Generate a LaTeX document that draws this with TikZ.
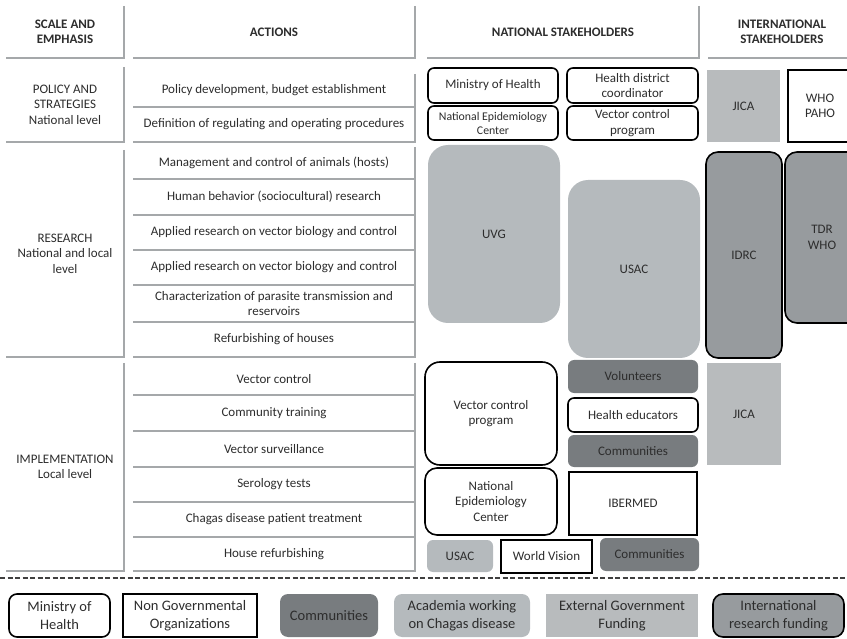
\documentclass[tikz,border=0pt]{standalone}
\usepackage{fontspec}
\setmainfont{Carlito}
\definecolor{txtgray}{RGB}{45,45,45}
\definecolor{rulegray}{RGB}{165,168,170}
\definecolor{commgray}{RGB}{120,124,127}
\definecolor{acadgray}{RGB}{181,186,189}
\definecolor{extgray}{RGB}{184,187,189}
\definecolor{intgray}{RGB}{151,155,158}
\begin{document}
\begin{tikzpicture}[x=1pt,y=-1pt,
    every node/.style={text=txtgray, align=center, inner sep=2pt,
        font=\fontsize{13}{15.5}\selectfont},
    hdr/.style={fill=white, minimum height=52pt,
        font=\fontsize{13}{15}\selectfont\bfseries},
    scl/.style={fill=white, minimum width=118pt},
    act/.style={fill=white, minimum width=282pt},
    natw/.style={draw=black, line width=1.6pt, fill=white, rounded corners=6pt},
    ngo/.style={draw=black, line width=1.6pt, fill=white},
    comm/.style={fill=commgray, rounded corners=6pt},
    acad/.style={fill=acadgray, rounded corners=6pt},
    extgov/.style={fill=extgray},
    intres/.style={draw=black, line width=1.6pt, fill=intgray, rounded corners=8pt},
    keybox/.style={minimum height=43pt, font=\fontsize{14.5}{18}\selectfont},
    edge shade/.style={draw=rulegray, line width=1.6pt}]
    \useasboundingbox (0,0) rectangle (847,639);

    % column heads
    \node[hdr, minimum width=118pt] (hScale) at (65,32) {SCALE AND\\EMPHASIS};
    \node[hdr, minimum width=282pt] (hAct) at (274,32) {ACTIONS};
    \node[hdr, minimum width=272pt] (hNat) at (563,32) {NATIONAL STAKEHOLDERS};
    \node[hdr, minimum width=148pt] (hInt) at (782,32) {INTERNATIONAL\\STAKEHOLDERS};

    % scale and emphasis
    \node[scl, minimum height=75pt] (sPol) at (65,104.5) {POLICY AND\\STRATEGIES\\National level};
    \node[scl, minimum height=207pt] (sRes) at (65,253.5) {RESEARCH\\National and local\\level};
    \node[scl, minimum height=208pt] (sImp) at (65,467) {IMPLEMENTATION\\Local level};

    % actions
    \node[act, minimum height=33pt] (a1) at (274,90.5) {Policy development, budget establishment};
    \node[act, minimum height=35pt] (a2) at (274,124.5) {Definition of regulating and operating procedures};
    \node[act, minimum height=32pt] (a3) at (274,163) {Management and control of animals (hosts)};
    \node[act, minimum height=36pt] (a4) at (274,197) {Human behavior (sociocultural) research};
    \node[act, minimum height=35pt] (a5) at (274,232.5) {Applied research on vector biology and control};
    \node[act, minimum height=35pt] (a6) at (274,267.5) {Applied research on vector biology and control};
    \node[act, minimum height=37pt] (a7) at (274,303.5) {Characterization of parasite transmission and\\reservoirs};
    \node[act, minimum height=35pt] (a8) at (274,339.5) {Refurbishing of houses};
    \node[act, minimum height=32pt] (a9) at (274,379) {Vector control};
    \node[act, minimum height=36pt] (a10) at (274,413) {Community training};
    \node[act, minimum height=36pt] (a11) at (274,449) {Vector surveillance};
    \node[act, minimum height=35pt] (a12) at (274,484.5) {Serology tests};
    \node[act, minimum height=35pt] (a13) at (274,519.5) {Chagas disease patient treatment};
    \node[act, minimum height=34pt] (a14) at (274,554) {House refurbishing};

    \foreach \n in {hScale,hAct,hNat,hInt,sPol,sRes,sImp,a1,a2,a3,a4,a5,a6,a7,a8,a9,a10,a11,a12,a13,a14}
        \draw[edge shade] (\n.north east) -- (\n.south east) -- (\n.south west);

    % policy and strategies
    \node[natw, minimum width=130pt, minimum height=35pt] (moh) at (493,85.5) {Ministry of Health};
    \node[natw, minimum width=131pt, minimum height=35pt] (hdc) at (632.5,85.5) {Health district\\coordinator};
    \node[natw, minimum width=130pt, minimum height=34pt, font=\fontsize{11.8}{14}\selectfont] (nec1) at (493,123) {National Epidemiology\\Center};
    \node[natw, minimum width=131pt, minimum height=34pt] (vcp1) at (632.5,123) {Vector control\\program};
    \node[extgov, minimum width=73pt, minimum height=72pt] (jica1) at (743.5,106) {JICA};
    \node[ngo, minimum width=64pt, minimum height=72pt] (whopaho) at (820,106) {WHO\\PAHO};

    % research
    \node[acad, rounded corners=20pt, minimum width=132pt, minimum height=178pt] (uvg) at (494,234) {UVG};
    \node[acad, rounded corners=20pt, minimum width=132pt, minimum height=178pt] (usac1) at (634,269) {USAC};
    \node[intres, rounded corners=12pt, minimum width=76pt, minimum height=206pt] (idrc) at (744,255) {IDRC};
    \node[intres, rounded corners=12pt, minimum width=74pt, minimum height=171pt] (tdr) at (822,237.5) {TDR\\WHO};

    % implementation
    \node[natw, rounded corners=15pt, minimum width=132pt, minimum height=103pt] (vcp2) at (491,413.5) {Vector control\\program};
    \node[comm, minimum width=130pt, minimum height=33pt] (vol) at (633,376.5) {Volunteers};
    \node[natw, minimum width=130pt, minimum height=34pt] (hedu) at (633,415) {Health educators};
    \node[comm, minimum width=130pt, minimum height=32pt] (comm1) at (633,451) {Communities};
    \node[extgov, minimum width=74pt, minimum height=102pt] (jica2) at (744,414) {JICA};
    \node[natw, rounded corners=12pt, minimum width=132pt, minimum height=67pt] (nec2) at (491,501.5) {National\\Epidemiology\\Center};
    \node[ngo, minimum width=128pt, minimum height=63pt] (ibermed) at (633,503.5) {IBERMED};
    \node[acad, minimum width=66pt, minimum height=32pt] (usac2) at (460,556) {USAC};
    \node[ngo, minimum width=91pt, minimum height=33pt] (wv) at (546.5,556.5) {World Vision};
    \node[comm, minimum width=99pt, minimum height=33pt] (comm2) at (649.5,554.5) {Communities};

    \draw[black!75, line width=2pt, dash pattern=on 5pt off 2.5pt] (0,578) -- (847,578);

    % key
    \node[keybox, natw, rounded corners=8pt, minimum width=101pt] (kMoh) at (59.5,615.5) {Ministry of\\Health};
    \node[keybox, ngo, minimum width=134pt] (kNgo) at (190,615.5) {Non Governmental\\Organizations};
    \node[keybox, comm, rounded corners=8pt, minimum width=98pt] (kComm) at (329,615.5) {Communities};
    \node[keybox, acad, rounded corners=8pt, minimum width=136pt] (kAcad) at (462,615.5) {Academia working\\on Chagas disease};
    \node[keybox, extgov, minimum width=152pt] (kExt) at (622,615.5) {External Government\\Funding};
    \node[keybox, intres, rounded corners=10pt, minimum width=131pt] (kInt) at (778.5,615.5) {International\\research funding};
\end{tikzpicture}
\end{document}
